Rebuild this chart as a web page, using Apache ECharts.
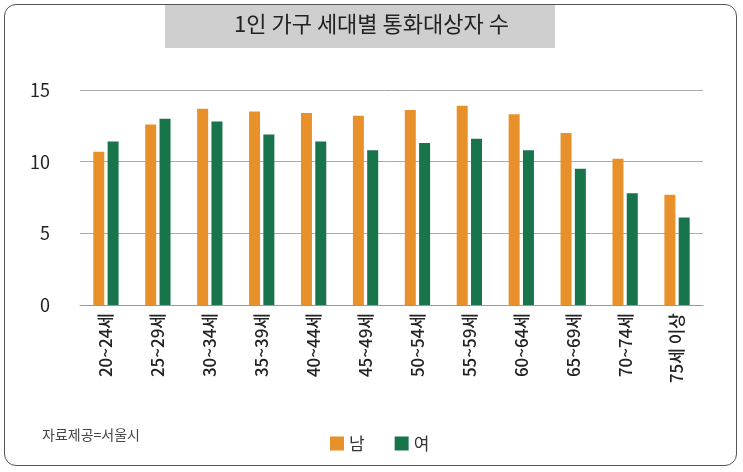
<!DOCTYPE html>
<html lang="ko">
<head>
<meta charset="UTF-8">
<title>1인 가구 세대별 통화대상자 수</title>
<style>
  html, body { margin: 0; padding: 0; background: #fff; }
  #frame {
    position: absolute; left: 4px; top: 4px; width: 733px; height: 462px;
    border: 1px solid #555; border-radius: 12px; box-sizing: border-box;
  }
  #chart { position: absolute; left: 0; top: 0; width: 743px; height: 472px; }
</style>
</head>
<body>
<div id="frame"></div>
<div id="chart"></div>
<script src="https://cdn.jsdelivr.net/npm/echarts@6/dist/echarts.min.js"></script>
<script>
  var ageGroups = ['20~24세', '25~29세', '30~34세', '35~39세', '40~44세', '45~49세',
                   '50~54세', '55~59세', '60~64세', '65~69세', '70~74세', '75세 이상'];
  var male   = [10.7, 12.6, 13.7, 13.5, 13.4, 13.2, 13.6, 13.9, 13.3, 12.0, 10.2, 7.7];
  var female = [11.4, 13.0, 12.8, 11.9, 11.4, 10.8, 11.3, 11.6, 10.8, 9.5, 7.8, 6.1];

  var font = '"Noto Sans CJK KR", "Noto Sans", sans-serif';
  var chart = echarts.init(document.getElementById('chart'));
  chart.setOption({
    animation: false,
    graphic: [
      { type: 'rect', left: 165, top: 5, shape: { width: 390, height: 43 },
        style: { fill: '#cfcfcf' } },
      { type: 'text', left: 'center', top: 13, x: -12,
        style: { text: '1인 가구 세대별 통화대상자 수', font: '22px ' + font, fill: '#222' } },
      { type: 'text', left: 42, top: 428,
        style: { text: '자료제공=서울시', font: '14px ' + font, fill: '#444' } }
    ],
    legend: {
      left: 325, top: 430, itemWidth: 14, itemHeight: 14, itemGap: 30,
      textStyle: { fontFamily: font, fontSize: 17, color: '#333' },
      data: [{ name: '남', icon: 'rect' }, { name: '여', icon: 'rect' }]
    },
    grid: { left: 80, right: 40, top: 90, bottom: 167 },
    xAxis: {
      type: 'category', data: ageGroups,
      axisLine: { lineStyle: { color: '#999' } },
      axisTick: { show: false },
      axisLabel: { rotate: 90, interval: 0, fontFamily: font, fontSize: 17, fontWeight: 500, color: '#222', margin: 8 }
    },
    yAxis: {
      type: 'value', min: 0, max: 15, interval: 5,
      axisLabel: { fontFamily: font, fontSize: 18, color: '#222', margin: 30 },
      splitLine: { lineStyle: { color: '#aaa' } }
    },
    series: [
      { name: '남', type: 'bar', data: male, barWidth: 11, barGap: '30%',
        itemStyle: { color: '#e8912b' } },
      { name: '여', type: 'bar', data: female, barWidth: 11,
        itemStyle: { color: '#18744b' } }
    ]
  });
</script>
</body>
</html>
